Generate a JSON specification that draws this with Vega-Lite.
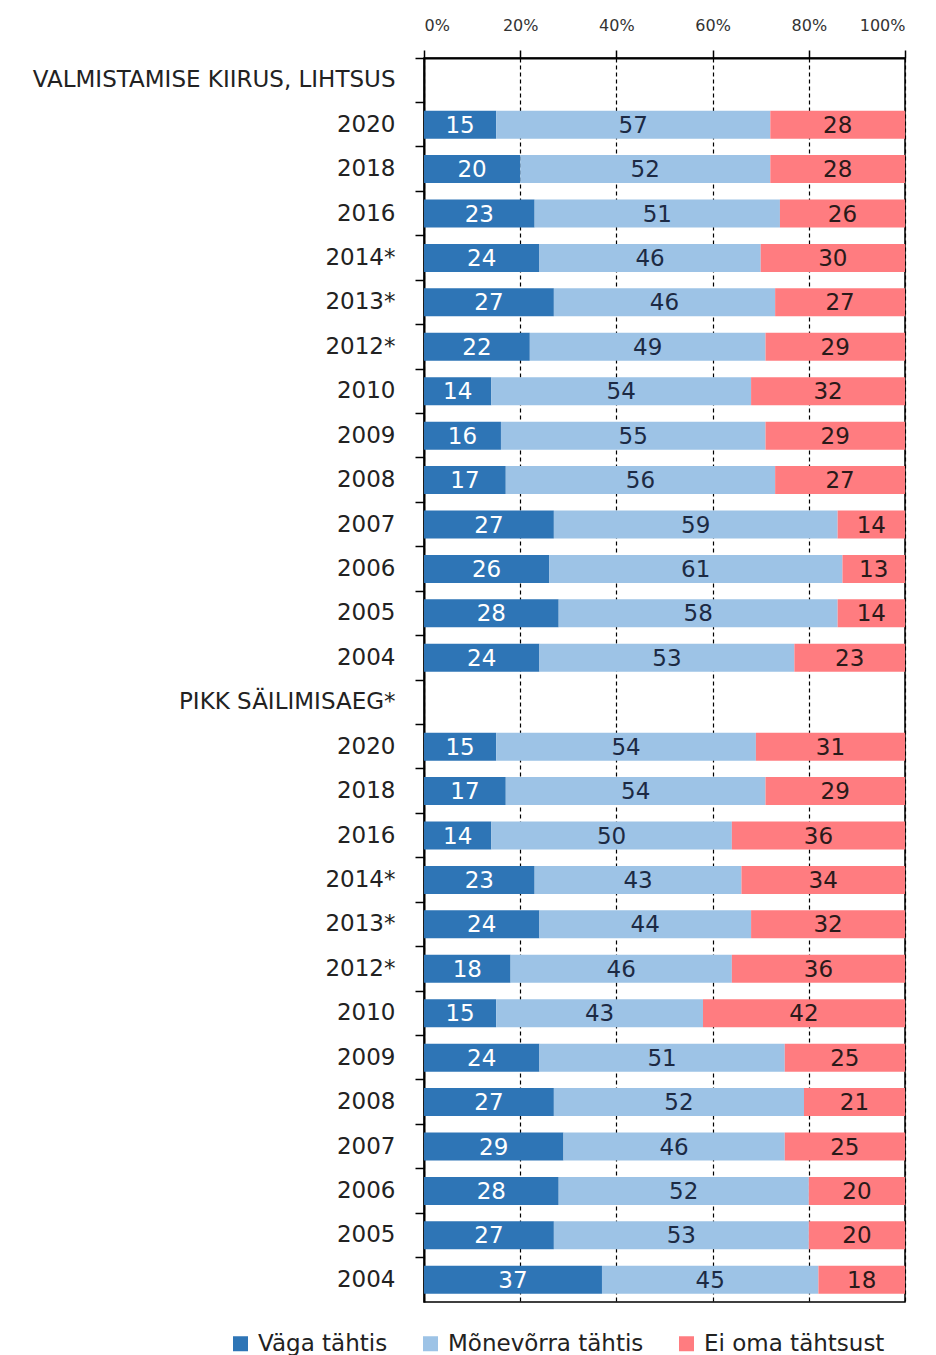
{
  "$schema": "https://vega.github.io/schema/vega-lite/v6.json",
  "width": 481,
  "height": 1244,
  "autosize": {"type": "none"},
  "padding": {"left": 424, "top": 58, "right": 31, "bottom": 53},
  "background": "white",
  "config": {
    "view": {"stroke": "#000", "strokeWidth": 1.5},
    "font": "DejaVu Sans"
  },
  "data": {
    "values": [
      {"row": "A|2020", "cat": "Väga tähtis", "ord": 0, "value": 15}, {"row": "A|2020", "cat": "Mõnevõrra tähtis", "ord": 1, "value": 57}, {"row": "A|2020", "cat": "Ei oma tähtsust", "ord": 2, "value": 28},
      {"row": "A|2018", "cat": "Väga tähtis", "ord": 0, "value": 20}, {"row": "A|2018", "cat": "Mõnevõrra tähtis", "ord": 1, "value": 52}, {"row": "A|2018", "cat": "Ei oma tähtsust", "ord": 2, "value": 28},
      {"row": "A|2016", "cat": "Väga tähtis", "ord": 0, "value": 23}, {"row": "A|2016", "cat": "Mõnevõrra tähtis", "ord": 1, "value": 51}, {"row": "A|2016", "cat": "Ei oma tähtsust", "ord": 2, "value": 26},
      {"row": "A|2014*", "cat": "Väga tähtis", "ord": 0, "value": 24}, {"row": "A|2014*", "cat": "Mõnevõrra tähtis", "ord": 1, "value": 46}, {"row": "A|2014*", "cat": "Ei oma tähtsust", "ord": 2, "value": 30},
      {"row": "A|2013*", "cat": "Väga tähtis", "ord": 0, "value": 27}, {"row": "A|2013*", "cat": "Mõnevõrra tähtis", "ord": 1, "value": 46}, {"row": "A|2013*", "cat": "Ei oma tähtsust", "ord": 2, "value": 27},
      {"row": "A|2012*", "cat": "Väga tähtis", "ord": 0, "value": 22}, {"row": "A|2012*", "cat": "Mõnevõrra tähtis", "ord": 1, "value": 49}, {"row": "A|2012*", "cat": "Ei oma tähtsust", "ord": 2, "value": 29},
      {"row": "A|2010", "cat": "Väga tähtis", "ord": 0, "value": 14}, {"row": "A|2010", "cat": "Mõnevõrra tähtis", "ord": 1, "value": 54}, {"row": "A|2010", "cat": "Ei oma tähtsust", "ord": 2, "value": 32},
      {"row": "A|2009", "cat": "Väga tähtis", "ord": 0, "value": 16}, {"row": "A|2009", "cat": "Mõnevõrra tähtis", "ord": 1, "value": 55}, {"row": "A|2009", "cat": "Ei oma tähtsust", "ord": 2, "value": 29},
      {"row": "A|2008", "cat": "Väga tähtis", "ord": 0, "value": 17}, {"row": "A|2008", "cat": "Mõnevõrra tähtis", "ord": 1, "value": 56}, {"row": "A|2008", "cat": "Ei oma tähtsust", "ord": 2, "value": 27},
      {"row": "A|2007", "cat": "Väga tähtis", "ord": 0, "value": 27}, {"row": "A|2007", "cat": "Mõnevõrra tähtis", "ord": 1, "value": 59}, {"row": "A|2007", "cat": "Ei oma tähtsust", "ord": 2, "value": 14},
      {"row": "A|2006", "cat": "Väga tähtis", "ord": 0, "value": 26}, {"row": "A|2006", "cat": "Mõnevõrra tähtis", "ord": 1, "value": 61}, {"row": "A|2006", "cat": "Ei oma tähtsust", "ord": 2, "value": 13},
      {"row": "A|2005", "cat": "Väga tähtis", "ord": 0, "value": 28}, {"row": "A|2005", "cat": "Mõnevõrra tähtis", "ord": 1, "value": 58}, {"row": "A|2005", "cat": "Ei oma tähtsust", "ord": 2, "value": 14},
      {"row": "A|2004", "cat": "Väga tähtis", "ord": 0, "value": 24}, {"row": "A|2004", "cat": "Mõnevõrra tähtis", "ord": 1, "value": 53}, {"row": "A|2004", "cat": "Ei oma tähtsust", "ord": 2, "value": 23},
      {"row": "B|2020", "cat": "Väga tähtis", "ord": 0, "value": 15}, {"row": "B|2020", "cat": "Mõnevõrra tähtis", "ord": 1, "value": 54}, {"row": "B|2020", "cat": "Ei oma tähtsust", "ord": 2, "value": 31},
      {"row": "B|2018", "cat": "Väga tähtis", "ord": 0, "value": 17}, {"row": "B|2018", "cat": "Mõnevõrra tähtis", "ord": 1, "value": 54}, {"row": "B|2018", "cat": "Ei oma tähtsust", "ord": 2, "value": 29},
      {"row": "B|2016", "cat": "Väga tähtis", "ord": 0, "value": 14}, {"row": "B|2016", "cat": "Mõnevõrra tähtis", "ord": 1, "value": 50}, {"row": "B|2016", "cat": "Ei oma tähtsust", "ord": 2, "value": 36},
      {"row": "B|2014*", "cat": "Väga tähtis", "ord": 0, "value": 23}, {"row": "B|2014*", "cat": "Mõnevõrra tähtis", "ord": 1, "value": 43}, {"row": "B|2014*", "cat": "Ei oma tähtsust", "ord": 2, "value": 34},
      {"row": "B|2013*", "cat": "Väga tähtis", "ord": 0, "value": 24}, {"row": "B|2013*", "cat": "Mõnevõrra tähtis", "ord": 1, "value": 44}, {"row": "B|2013*", "cat": "Ei oma tähtsust", "ord": 2, "value": 32},
      {"row": "B|2012*", "cat": "Väga tähtis", "ord": 0, "value": 18}, {"row": "B|2012*", "cat": "Mõnevõrra tähtis", "ord": 1, "value": 46}, {"row": "B|2012*", "cat": "Ei oma tähtsust", "ord": 2, "value": 36},
      {"row": "B|2010", "cat": "Väga tähtis", "ord": 0, "value": 15}, {"row": "B|2010", "cat": "Mõnevõrra tähtis", "ord": 1, "value": 43}, {"row": "B|2010", "cat": "Ei oma tähtsust", "ord": 2, "value": 42},
      {"row": "B|2009", "cat": "Väga tähtis", "ord": 0, "value": 24}, {"row": "B|2009", "cat": "Mõnevõrra tähtis", "ord": 1, "value": 51}, {"row": "B|2009", "cat": "Ei oma tähtsust", "ord": 2, "value": 25},
      {"row": "B|2008", "cat": "Väga tähtis", "ord": 0, "value": 27}, {"row": "B|2008", "cat": "Mõnevõrra tähtis", "ord": 1, "value": 52}, {"row": "B|2008", "cat": "Ei oma tähtsust", "ord": 2, "value": 21},
      {"row": "B|2007", "cat": "Väga tähtis", "ord": 0, "value": 29}, {"row": "B|2007", "cat": "Mõnevõrra tähtis", "ord": 1, "value": 46}, {"row": "B|2007", "cat": "Ei oma tähtsust", "ord": 2, "value": 25},
      {"row": "B|2006", "cat": "Väga tähtis", "ord": 0, "value": 28}, {"row": "B|2006", "cat": "Mõnevõrra tähtis", "ord": 1, "value": 52}, {"row": "B|2006", "cat": "Ei oma tähtsust", "ord": 2, "value": 20},
      {"row": "B|2005", "cat": "Väga tähtis", "ord": 0, "value": 27}, {"row": "B|2005", "cat": "Mõnevõrra tähtis", "ord": 1, "value": 53}, {"row": "B|2005", "cat": "Ei oma tähtsust", "ord": 2, "value": 20},
      {"row": "B|2004", "cat": "Väga tähtis", "ord": 0, "value": 37}, {"row": "B|2004", "cat": "Mõnevõrra tähtis", "ord": 1, "value": 45}, {"row": "B|2004", "cat": "Ei oma tähtsust", "ord": 2, "value": 18}
    ]
  },
  "transform": [
    {"stack": "value", "groupby": ["row"], "sort": [{"field": "ord", "order": "ascending"}], "as": ["v0", "v1"]},
    {"calculate": "(datum.v0 + datum.v1) / 2", "as": "mid"}
  ],
  "encoding": {
    "y": {
      "field": "row",
      "type": "nominal",
      "sort": null,
      "scale": {
        "domain": ["VALMISTAMISE KIIRUS, LIHTSUS", "A|2020", "A|2018", "A|2016", "A|2014*", "A|2013*", "A|2012*", "A|2010", "A|2009", "A|2008", "A|2007", "A|2006", "A|2005", "A|2004",
                   "PIKK SÄILIMISAEG*", "B|2020", "B|2018", "B|2016", "B|2014*", "B|2013*", "B|2012*", "B|2010", "B|2009", "B|2008", "B|2007", "B|2006", "B|2005", "B|2004"],
        "paddingInner": 0,
        "paddingOuter": 0
      },
      "axis": {
        "title": null,
        "labelExpr": "indexof(datum.value, '|') >= 0 ? split(datum.value, '|')[1] : datum.value",
        "bandPosition": 0,
        "domainColor": "#000",
        "domainWidth": 2,
        "tickSize": 9,
        "tickColor": "#000",
        "tickWidth": 1.5,
        "labelFontSize": 23,
        "labelColor": "#222",
        "labelPadding": 20,
        "labelLimit": 420,
        "grid": false
      }
    }
  },
  "layer": [
    {
      "mark": {"type": "bar", "height": {"band": 0.63}},
      "encoding": {
        "x": {
          "field": "v0",
          "type": "quantitative",
          "scale": {"domain": [0, 100], "nice": false},
          "axis": {
            "orient": "top",
            "title": null,
            "values": [0, 20, 40, 60, 80, 100],
            "labelExpr": "datum.value + '%'",
            "domainColor": "#000",
            "domainWidth": 2,
            "tickColor": "#000",
            "tickSize": 8,
            "tickWidth": 1.5,
            "labelFontSize": 16,
            "labelColor": "#333",
            "labelPadding": 17,
            "grid": true,
            "gridColor": "#000",
            "gridDash": [4, 3],
            "gridWidth": 1.2
          }
        },
        "x2": {"field": "v1"},
        "color": {
          "field": "cat",
          "type": "nominal",
          "scale": {
            "domain": ["Väga tähtis", "Mõnevõrra tähtis", "Ei oma tähtsust"],
            "range": ["#2E75B6", "#9DC3E6", "#FF7C80"]
          },
          "legend": {
            "title": null,
            "orient": "none",
            "direction": "horizontal",
            "legendX": -195,
            "legendY": 1274,
            "symbolType": "square",
            "symbolSize": 225,
            "labelFontSize": 23,
            "labelColor": "#222",
            "labelOffset": 6,
            "columnPadding": 31,
            "labelLimit": 300
          }
        }
      }
    },
    {
      "mark": {"type": "text", "fontSize": 23, "baseline": "middle", "align": "center", "dy": 1},
      "encoding": {
        "x": {"field": "mid", "type": "quantitative"},
        "text": {"field": "value", "type": "quantitative"},
        "color": {
          "condition": [
            {"test": "datum.ord === 0", "value": "#ffffff"},
            {"test": "datum.ord === 1", "value": "#1c2a44"}
          ],
          "value": "#2a1a1a"
        }
      }
    }
  ]
}
